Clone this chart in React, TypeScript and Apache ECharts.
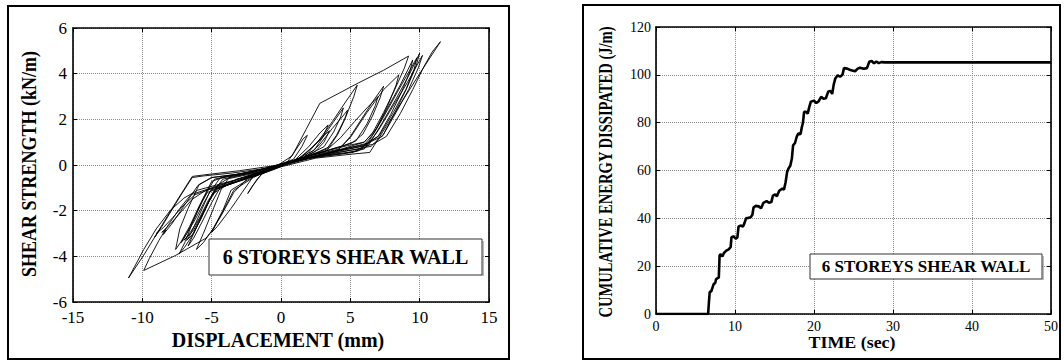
import React, { useEffect, useRef } from "react";
import * as echarts from "echarts";

// ---------- DATA ----------
// Left panel: shear strength (kN/m) vs displacement (mm) hysteresis path, in drawing order
const hysteresisLoop: [number, number][] = [
  [0, 0], [0.4, 0.08], [1.0, 0.6], [1.6, 1.15], [1.9, 1.3], [1.5, 0.8], [0.9, 0.25], [0, 0.05], [-0.9, -0.12], [-1.7, -0.6], [-2.4, -1.25], [-2.1, -0.95], [-1.4, -0.4], [-0.4, -0.08],
  [0.8, 0.4], [1.8, 1.55], [2.8, 2.7], [4.2, 3.15], [5.6, 3.6], [7.4, 4.15], [9.2, 4.77], [8.9, 4.25], [8.2, 3.3], [7.4, 2.3], [6.6, 1.4], [6.0, 1.0], [4.8, 0.85], [2.5, 0.5], [0.6, 0.15],
  [-1.5, -0.2], [-3.5, -0.45], [-4.8, -0.62], [-5.4, -1.25], [-6.1, -2.15], [-6.8, -3.0], [-7.2, -3.4], [-6.8, -3.0], [-6.2, -2.4], [-5.6, -1.7], [-5.05, -1.1], [-3.2, -0.75], [-1.2, -0.35], [0.2, 0.05],
  [1.6, 0.3], [2.7, 1.05], [3.7, 1.9], [4.7, 2.8], [5.5, 3.5], [5.25, 3.0], [4.7, 2.15], [4.0, 1.3], [3.3, 0.7], [1.6, 0.32], [-0.2, -0.04],
  [-2.2, -0.45], [-3.4, -1.2], [-4.3, -2.2], [-5.0, -2.9], [-5.4, -3.2], [-7.6, -3.96], [-9.9, -4.62], [-9.5, -4.1], [-8.8, -3.3], [-8.1, -2.6], [-7.3, -1.9], [-6.5, -1.3], [-5.4, -1.08], [-3.0, -0.6], [-0.8, -0.2], [0.6, 0.12],
  [2.2, 0.42], [4.2, 0.7], [5.0, 1.25], [5.9, 2.1], [6.7, 2.85], [7.4, 3.45], [7.15, 2.95], [6.6, 2.15], [5.9, 1.35], [5.1, 0.95], [2.6, 0.5], [0.3, 0.08],
  [-2.0, -0.28], [-4.0, -0.5], [-5.0, -0.72], [-5.7, -1.55], [-6.4, -2.55], [-6.9, -3.35], [-7.35, -3.9], [-6.95, -3.6], [-6.3, -3.0], [-5.6, -2.1], [-4.9, -1.25], [-3.2, -0.62], [-0.9, -0.22], [0.5, 0.1],
  [3.0, 0.42], [5.5, 0.6], [6.3, 0.85], [7.3, 1.85], [8.3, 2.9], [9.2, 3.9], [10.0, 4.9], [9.75, 4.35], [9.1, 3.4], [8.3, 2.4], [7.4, 1.35], [6.5, 0.82], [4.2, 0.55], [1.2, 0.2], [-1.0, -0.14],
  [-3.5, -0.35], [-5.6, -0.48], [-6.4, -0.55], [-7.2, -1.3], [-8.0, -2.1], [-8.6, -2.7], [-9.1, -3.15], [-8.75, -2.85], [-9.0, -3.0], [-8.5, -2.75], [-7.8, -2.3], [-7.0, -1.75], [-6.2, -1.3], [-5.2, -1.08], [-3.0, -0.68], [-1.0, -0.3], [0.4, 0.08],
  [1.8, 0.35], [2.8, 0.9], [3.7, 1.6], [4.4, 2.1], [4.8, 2.4], [4.6, 2.0], [4.1, 1.35], [3.5, 0.8], [2.0, 0.38], [0, 0.0],
  [-2.5, -0.4], [-4.2, -0.62], [-4.9, -1.2], [-5.6, -2.1], [-6.3, -3.0], [-6.7, -3.55], [-6.3, -3.2], [-5.7, -2.5], [-5.0, -1.65], [-4.4, -1.0], [-2.5, -0.55], [-0.6, -0.15], [0.8, 0.18],
  [3.5, 0.5], [5.8, 0.72], [6.7, 1.4], [7.6, 2.4], [8.6, 3.5], [9.5, 4.6], [9.3, 4.1], [8.7, 3.2], [7.9, 2.2], [7.0, 1.25], [6.0, 0.85], [3.0, 0.45], [0.2, 0.03],
  [-3.0, -0.25], [-5.5, -0.43], [-6.4, -0.5], [-7.6, -1.65], [-8.8, -2.85], [-9.9, -3.95], [-11.0, -4.95], [-10.6, -4.5], [-9.9, -3.7], [-9.0, -2.8], [-8.0, -2.0], [-7.0, -1.45], [-6.0, -1.1], [-4.5, -0.85], [-2.0, -0.45], [0.0, -0.08],
  [2.5, 0.3], [5.0, 0.47], [6.4, 0.55], [7.6, 1.7], [8.8, 2.85], [10.0, 4.0], [11.5, 5.4], [10.9, 4.95], [10.3, 4.3], [9.5, 3.3], [8.6, 2.25], [7.6, 1.25], [6.6, 0.9], [4.0, 0.6], [1.0, 0.15],
  [-1.5, -0.3], [-3.6, -0.5], [-4.6, -0.9], [-5.5, -1.95], [-6.3, -2.85], [-7.0, -3.3], [-6.6, -3.0], [-5.9, -2.35], [-5.2, -1.5], [-4.6, -1.0], [-2.4, -0.55], [-0.4, -0.12],
  [2.0, 0.28], [4.5, 0.5], [6.0, 0.7], [7.0, 1.5], [8.0, 2.5], [9.1, 3.6], [10.2, 4.8], [9.9, 4.25], [9.2, 3.3], [8.3, 2.3], [7.3, 1.25], [6.2, 0.95], [3.5, 0.55], [0.8, 0.15],
  [-1.8, -0.35], [-3.8, -0.6], [-4.3, -1.05], [-5.0, -2.1], [-5.6, -3.0], [-6.1, -3.7], [-5.6, -3.4], [-4.9, -2.8], [-4.2, -2.0], [-3.6, -1.1], [-2.0, -0.5], [-0.3, -0.1],
  [1.5, 0.3], [3.2, 0.6], [4.3, 1.2], [5.3, 1.9], [6.2, 2.5], [7.0, 3.0], [6.8, 2.6], [6.2, 1.8], [5.4, 1.05], [4.5, 0.85], [2.0, 0.4], [0, 0.0],
  [-3.0, -0.4], [-5.0, -0.55], [-6.0, -0.9], [-7.0, -1.8], [-7.9, -2.6], [-8.5, -3.05], [-8.3, -2.85], [-8.6, -2.95], [-8.0, -2.6], [-7.2, -2.05], [-6.4, -1.5], [-5.4, -1.1], [-2.5, -0.5], [0.0, 0.0],
  [1.5, 0.28], [4.0, 0.6], [5.0, 1.2], [6.2, 2.3], [7.4, 3.3], [8.5, 3.95], [8.3, 3.5], [7.7, 2.6], [6.9, 1.6], [6.0, 1.0], [3.0, 0.45], [0.3, 0.05],
  [-2.2, -0.35], [-4.4, -0.58], [-5.2, -1.25], [-5.9, -2.2], [-6.5, -3.0], [-6.8, -3.3], [-6.4, -3.05], [-5.8, -2.4], [-5.2, -1.6], [-4.6, -1.05], [-2.6, -0.6], [-0.5, -0.15],
  [1.0, 0.22], [2.0, 0.8], [2.8, 1.4], [3.4, 1.75], [3.0, 1.2], [2.4, 0.65], [1.0, 0.22], [-0.8, -0.12],
  [-2.0, -0.5], [-2.8, -1.2], [-3.6, -1.9], [-4.6, -2.7], [-5.0, -2.95], [-4.6, -2.5], [-4.0, -1.8], [-3.4, -1.1], [-2.0, -0.55], [0, 0.02],
  [2.5, 0.35], [5.2, 0.55], [6.2, 0.9], [7.3, 2.0], [8.4, 3.2], [9.8, 4.7], [9.6, 4.2], [9.0, 3.3], [8.1, 2.3], [7.1, 1.3], [6.1, 0.9], [3.0, 0.5], [0, -0.02],
  [-2.5, -0.35], [-5.0, -0.55], [-5.9, -0.85], [-6.7, -1.9], [-7.3, -2.8], [-7.6, -3.7], [-7.2, -3.35], [-6.6, -2.7], [-5.9, -1.8], [-5.3, -1.2], [-3.0, -0.7], [-0.5, -0.2],
  [1.5, 0.35], [3.0, 1.2], [3.8, 1.9], [4.5, 2.5], [4.3, 2.1], [3.8, 1.45], [3.1, 0.8], [1.5, 0.3],
  [1.2, 0.25], [2.2, 0.75], [3.0, 1.25], [3.5, 1.5], [3.1, 1.0], [2.4, 0.55], [1.0, 0.2], [0, 0.0],
];

// Right panel: cumulative energy dissipated (J/m) vs time (sec)
const energyCurve: [number, number][] = [
  [0, 0], [6.6, 0], [6.7, 5], [6.8, 9.2], [7.0, 9.5], [7.1, 10.5], [7.3, 12.5], [7.5, 13], [7.6, 14.5], [7.8, 15], [7.95, 15.2],
  [8.05, 24.5], [8.2, 25], [8.4, 24], [8.6, 25.5], [8.9, 26.5], [9.2, 27], [9.45, 28], [9.55, 32], [9.8, 32.5], [10.1, 31.5],
  [10.3, 32], [10.45, 36.5], [10.7, 37], [11.0, 36.5], [11.2, 38], [11.4, 40], [11.7, 40.2], [12.0, 40.5], [12.2, 41.5],
  [12.35, 44.5], [12.6, 45.2], [13.0, 45], [13.3, 44.2], [13.6, 46.5], [14.0, 47.2], [14.3, 46.5], [14.6, 46.8], [14.8, 49.5],
  [15.1, 50], [15.3, 49.2], [15.6, 51.5], [16.0, 52.5], [16.2, 52], [16.4, 55], [16.6, 59.5], [16.8, 61], [17.0, 62],
  [17.2, 65], [17.35, 70.5], [17.6, 71.5], [17.8, 74], [18.0, 75.5], [18.3, 75.2], [18.45, 78], [18.6, 80], [18.75, 84.5],
  [19.0, 84.5], [19.2, 83.8], [19.4, 86.5], [19.6, 88.8], [20.0, 89.2], [20.3, 88.2], [20.6, 89], [20.9, 90.8], [21.2, 90],
  [21.5, 90.2], [21.8, 93], [22.1, 93.2], [22.3, 92], [22.5, 96], [22.7, 98.5], [23.0, 99.8], [23.3, 99.2], [23.6, 100],
  [23.8, 102.8], [24.2, 102.6], [24.6, 102], [25.2, 101.5], [25.5, 102.5], [25.8, 103], [26.3, 102.5], [26.7, 102.8],
  [27.0, 105.5], [27.3, 105.8], [27.6, 104.8], [27.9, 105.6], [28.2, 104.9], [28.5, 105.3], [29, 105.2], [50, 105.2],
];

const displacementRange = { min: -15, max: 15, interval: 5 };
const shearRange = { min: -6, max: 6, interval: 2 };
const timeRange = { min: 0, max: 50, interval: 10 };
const energyRange = { min: 0, max: 120, interval: 20 };

const leftXTitle = "DISPLACEMENT (mm)";
const leftYTitle = "SHEAR STRENGTH (kN/m)";
const rightXTitle = "TIME (sec)";
const rightYTitle = "CUMULATIVE ENERGY DISSIPATED (J/m)";
const legendText = "6 STOREYS SHEAR WALL";

const SERIF = "Liberation Serif";

function axisPair(
  kind: "x" | "y",
  grid: number,
  range: { min: number; max: number; interval: number },
  fontSize: number,
  margin: number
) {
  const frame = { show: true, onZero: false, lineStyle: { color: "#000", width: 1.6 } };
  const tick = { show: true, inside: true, length: 4, lineStyle: { color: "#000", width: 1 } };
  const main = {
    gridIndex: grid,
    type: "value",
    ...range,
    position: kind === "x" ? "bottom" : "left",
    axisLine: frame,
    axisTick: tick,
    axisLabel: { margin, fontSize, fontFamily: SERIF, color: "#000" },
    splitLine: { show: true, lineStyle: { color: "#8a8a8a", type: "dotted", width: 1 } },
  };
  const opposite = {
    gridIndex: grid,
    type: "value",
    ...range,
    position: kind === "x" ? "top" : "right",
    axisLine: frame,
    axisTick: tick,
    axisLabel: { show: false },
    splitLine: { show: false },
  };
  return [main, opposite];
}

function titleText(text: string, x: number, y: number, size: number, rotate: boolean, scale = 1) {
  return {
    type: "text",
    x,
    y,
    rotation: rotate ? Math.PI / 2 : 0,
    scaleX: scale,
    z: 20,
    style: {
      text,
      fontSize: size,
      fontWeight: "bold",
      fontFamily: SERIF,
      fill: "#000",
      align: "center",
      verticalAlign: "middle",
      textAlign: "center",
      textVerticalAlign: "middle",
    },
  };
}

function legendBox(x: number, y: number, w: number, h: number, size: number) {
  return [
    {
      type: "rect",
      z: 30,
      shape: { x, y, width: w, height: h },
      style: { fill: "#fff", stroke: "#333", lineWidth: 1 },
    },
    {
      type: "line",
      z: 31,
      shape: { x1: x + w + 1, y1: y + 2, x2: x + w + 1, y2: y + h + 1 },
      style: { stroke: "#777", lineWidth: 1 },
    },
    {
      type: "text",
      z: 32,
      x: x + w / 2,
      y: y + h / 2,
      style: {
        text: legendText,
        fontSize: size,
        fontWeight: "bold",
        fontFamily: SERIF,
        fill: "#000",
        align: "center",
        verticalAlign: "middle",
        textAlign: "center",
        textVerticalAlign: "middle",
      },
    },
  ];
}

export default function App() {
  const ref = useRef<HTMLDivElement>(null);

  useEffect(() => {
    if (!ref.current) return;
    const chart = echarts.init(ref.current, undefined, { renderer: "svg" });
    const [lx, lx2] = axisPair("x", 0, displacementRange, 17, 7);
    const [ly, ly2] = axisPair("y", 0, shearRange, 17, 6);
    const [rx, rx2] = axisPair("x", 1, timeRange, 14, 5);
    const [ry, ry2] = axisPair("y", 1, energyRange, 14, 5);

    chart.setOption({
      animation: false,
      backgroundColor: "#fff",
      textStyle: { fontFamily: SERIF },
      grid: [
        { left: 73, top: 28, width: 416, height: 274, containLabel: false },
        { left: 656, top: 27, width: 395, height: 287, containLabel: false },
      ],
      xAxis: [lx, lx2, rx, rx2],
      yAxis: [ly, ly2, ry, ry2],
      series: [
        {
          type: "line",
          xAxisIndex: 0,
          yAxisIndex: 0,
          data: hysteresisLoop,
          showSymbol: false,
          symbol: "none",
          lineStyle: { color: "#000", width: 0.9 },
          z: 5,
        },
        {
          type: "line",
          xAxisIndex: 2,
          yAxisIndex: 2,
          data: energyCurve,
          showSymbol: false,
          symbol: "none",
          lineStyle: { color: "#000", width: 2.6 },
          z: 5,
        },
      ],
      graphic: {
        elements: [
          { type: "rect", z: 1, shape: { x: 8, y: 6, width: 501, height: 353 }, style: { fill: "none", stroke: "#000", lineWidth: 2 } },
          { type: "rect", z: 1, shape: { x: 583, y: 5, width: 477, height: 354 }, style: { fill: "none", stroke: "#000", lineWidth: 2 } },
          titleText(leftYTitle, 29, 164, 20, true, 0.9),
          titleText(leftXTitle, 278, 340, 20, false),
          titleText(rightYTitle, 606, 172, 18, true, 0.81),
          titleText(rightXTitle, 852, 343, 16, false, 1.12),
          ...legendBox(209, 239, 273, 36, 20),
          ...legendBox(810, 254, 232, 25, 17),
        ],
      },
    });
    return () => chart.dispose();
  }, []);

  return (
    <div
      ref={ref}
      style={{ position: "absolute", left: 0, top: 0, width: 1064, height: 361, background: "#fff" }}
    />
  );
}
